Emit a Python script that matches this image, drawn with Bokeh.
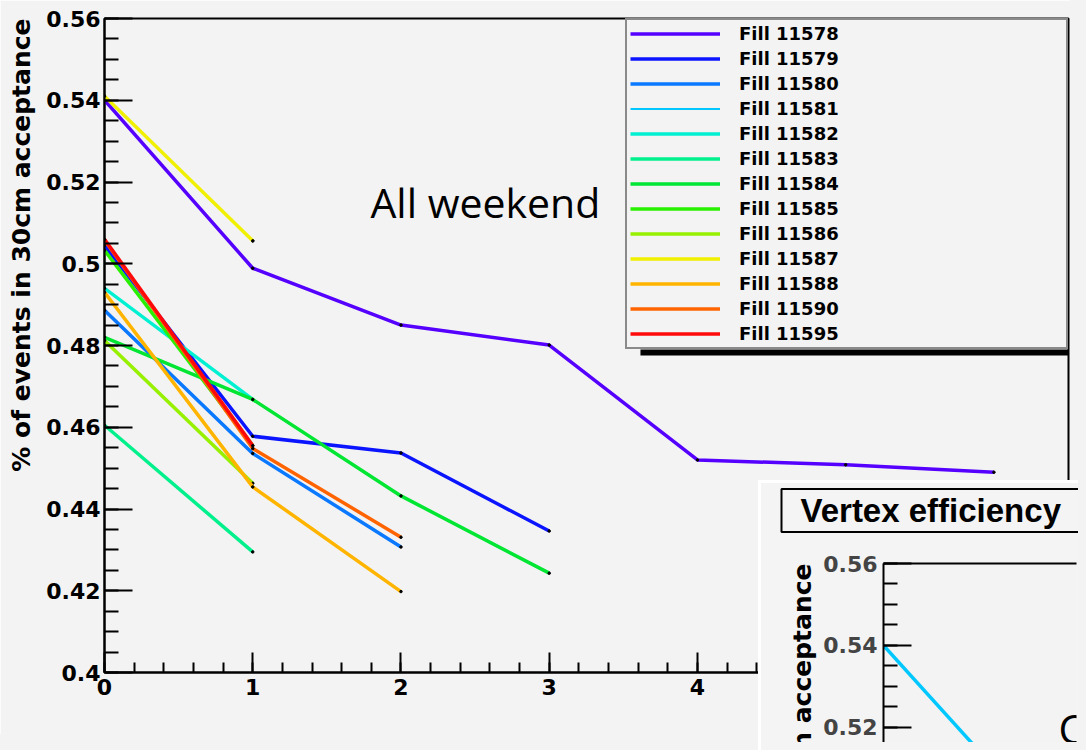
from bokeh.plotting import figure
from bokeh.models import Range1d, FixedTicker, Legend, LegendItem, Label, BoxAnnotation, LinearAxis, Title
from bokeh.layouts import column
from bokeh.embed import file_html
from bokeh.resources import INLINE

# ---------------- data ----------------
fills = ["Fill 11578", "Fill 11579", "Fill 11580", "Fill 11581", "Fill 11582",
         "Fill 11583", "Fill 11584", "Fill 11585", "Fill 11586", "Fill 11587",
         "Fill 11588", "Fill 11590", "Fill 11595"]
colors = ["#5500ff", "#0a14ff", "#0a78ff", "#00c8ff", "#00f0d2",
          "#00f08c", "#00e632", "#28f000", "#96f000", "#f0f000",
          "#ffb400", "#ff6400", "#ff0a0a"]
widths = [3.5, 3.5, 3.5, 2, 3.5, 3.5, 3.5, 3.5, 3.5, 3.5, 3.5, 3.5, 3.5]

y_11578 = [0.5400, 0.4989, 0.4850, 0.4801, 0.4520, 0.4508, 0.4490]
y_11579 = [0.5045, 0.4578, 0.4537, 0.4346]
y_11580 = [0.4886, 0.4536, 0.4307]
y_11581 = [0.5410, 0.5056]          # hidden under Fill 11587 in the picture
y_11582 = [0.4940, 0.4668]
y_11583 = [0.4605, 0.4295]
y_11584 = [0.4820, 0.4668, 0.4432, 0.4243]
y_11585 = [0.5033, 0.4555]
y_11586 = [0.4812, 0.4463]
y_11587 = [0.5410, 0.5056]
y_11588 = [0.4930, 0.4454, 0.4198]
y_11590 = [0.5058, 0.4548, 0.4331]
y_11595 = [0.5060, 0.4555]
series = [y_11578, y_11579, y_11580, y_11581, y_11582, y_11583, y_11584,
          y_11585, y_11586, y_11587, y_11588, y_11590, y_11595]

x_ticks = [0, 1, 2, 3, 4, 5, 6]
y_tick_values = [0.40, 0.42, 0.44, 0.46, 0.48, 0.50, 0.52, 0.54, 0.56]
y_tick_labels = ["0.4", "0.42", "0.44", "0.46", "0.48", "0.5", "0.52", "0.54", "0.56"]
y_title = "% of events in 30cm acceptance"

# inset ("Vertex efficiency") visible part
inset_title = "Vertex efficiency"
inset_y = [0.540, 0.500]
inset_tick_values = [0.52, 0.54, 0.56]
inset_tick_labels = ["0.52", "0.54", "0.56"]

BG = "#f3f3f3"
TICK_FONT = "DejaVu Sans"

# ---------------- main plot ----------------
p = figure(width=1070, height=734, x_range=Range1d(0, 6.503), y_range=Range1d(0.40, 0.56),
           output_backend="svg", toolbar_location=None,
           min_border_left=104, min_border_right=2, min_border_top=18, min_border_bottom=62,
           background_fill_color=BG, border_fill_color=BG)
p.grid.visible = False
p.outline_line_color = "black"
p.outline_line_width = 2

yminor = [round(0.40 + 0.005 * i, 3) for i in range(33)]
xminor = [round(0.2 * i, 2) for i in range(34)]
p.yaxis.ticker = FixedTicker(ticks=y_tick_values, minor_ticks=yminor)
p.yaxis.major_label_overrides = {v: l for v, l in zip(y_tick_values, y_tick_labels)}
p.xaxis.ticker = FixedTicker(ticks=x_ticks, minor_ticks=xminor)

for ax in (p.xaxis[0], p.yaxis[0]):
    ax.axis_line_width = 2
    ax.axis_line_color = "black"
    ax.major_tick_line_width = 2
    ax.minor_tick_line_width = 2
    ax.major_tick_out = 0
    ax.minor_tick_out = 0
    ax.major_label_text_font = TICK_FONT
    ax.major_label_text_font_style = "bold"
    ax.major_label_text_font_size = "22px"
    ax.major_label_text_color = "black"
p.yaxis.major_tick_in = 28
p.yaxis.minor_tick_in = 14
p.xaxis.major_tick_in = 20
p.xaxis.minor_tick_in = 10
p.yaxis.major_label_standoff = 4
p.xaxis.major_label_standoff = 6

p.add_layout(Title(text=y_title, align="right", vertical_align="top", text_font=TICK_FONT,
                   text_font_style="bold", text_font_size="25px", text_color="black",
                   standoff=12), "left")

items = []
for name, col, lw, ys in zip(fills, colors, widths, series):
    xs = list(range(len(ys)))
    r = p.line(xs, ys, line_color=col, line_width=lw)
    p.scatter(xs, ys, size=2.5, color="black")
    items.append(LegendItem(label=name, renderers=[r]))

# legend shadow
p.add_layout(BoxAnnotation(left=3.6155, right=None, top=0.47902, bottom=0.47755,
                           fill_color="black", fill_alpha=1, line_color=None))

legend = Legend(items=items, location="top_right", margin=0, padding=3, spacing=4,
                label_height=21, glyph_height=21, glyph_width=90, label_standoff=19,
                label_width=324, label_text_font=TICK_FONT, label_text_font_style="bold",
                label_text_font_size="18px", label_text_color="black",
                border_line_color="#222222", border_line_width=2,
                background_fill_color=BG, background_fill_alpha=1)
p.add_layout(legend)

p.add_layout(Label(x=1.794, y=0.5152, text="All weekend", text_font="Open Sans",
                   text_font_size="41px", text_color="black", text_baseline="alphabetic"))

# ---------------- inset plot (partly visible) ----------------
inset_css = {
    "position": "absolute", "left": "779px", "top": "451px", "z-index": "10",
    "background": "linear-gradient(to bottom, rgba(0,0,0,0) 0px, rgba(0,0,0,0) 29px, "
                  "#ffffff 29px, #ffffff 32px, #f4f4f4 32px, #f4f4f4 100%)",
    "box-shadow": "-18px 32px 0 0 #f4f4f4, -21px 29px 0 0 #ffffff",
}
ins = figure(width=299, height=291, x_range=Range1d(0, 1.302), y_range=Range1d(0.5163, 0.56),
             output_backend="svg", toolbar_location=None,
             min_border_left=104, min_border_right=2, min_border_top=112, min_border_bottom=0,
             background_fill_color=BG, border_fill_alpha=0, styles=inset_css)
ins.grid.visible = False
ins.outline_line_color = None
ins.xaxis.visible = False
top_ax = LinearAxis(ticker=FixedTicker(ticks=[]), axis_line_width=2, axis_line_color="black",
                    major_tick_in=0, major_tick_out=0, minor_tick_in=0, minor_tick_out=0)
ins.add_layout(top_ax, "above")

ya = ins.yaxis[0]
ya.ticker = FixedTicker(ticks=inset_tick_values, minor_ticks=[round(0.50 + 0.005 * i, 3) for i in range(13)])
ya.major_label_overrides = {v: l for v, l in zip(inset_tick_values, inset_tick_labels)}
ya.axis_line_width = 2
ya.major_tick_line_width = 2
ya.minor_tick_line_width = 2
ya.major_tick_out = 0
ya.minor_tick_out = 0
ya.major_tick_in = 28
ya.minor_tick_in = 14
ya.major_label_text_font = TICK_FONT
ya.major_label_text_font_style = "bold"
ya.major_label_text_font_size = "22px"
ya.major_label_standoff = 6

ins.add_layout(Title(text=y_title, align="right", text_font=TICK_FONT, text_font_style="bold",
                     text_font_size="25px", text_color="black", standoff=7), "left")

ins.line(list(range(len(inset_y))), inset_y, line_color=colors[3], line_width=3.5)

ins.add_layout(Title(text=inset_title, align="left", offset=-102, text_font="Liberation Sans",
                     text_font_style="bold", text_font_size="33px", text_color="black",
                     border_line_color="black", border_line_width=2,
                     background_fill_color="#f4f4f4", standoff=63,
                     padding=dict(left=19, right=28, top=3, bottom=3)), "above")
ins.add_layout(Label(x=1.18, y=0.5198, text="Ca", text_font="Open Sans",
                     text_font_size="41px", text_color="black", text_baseline="alphabetic"))

layout = column(p, ins, styles={"position": "relative", "box-shadow": "0 0 0 40px #f3f3f3"})

open("out.html", "w").write(file_html(layout, INLINE))
